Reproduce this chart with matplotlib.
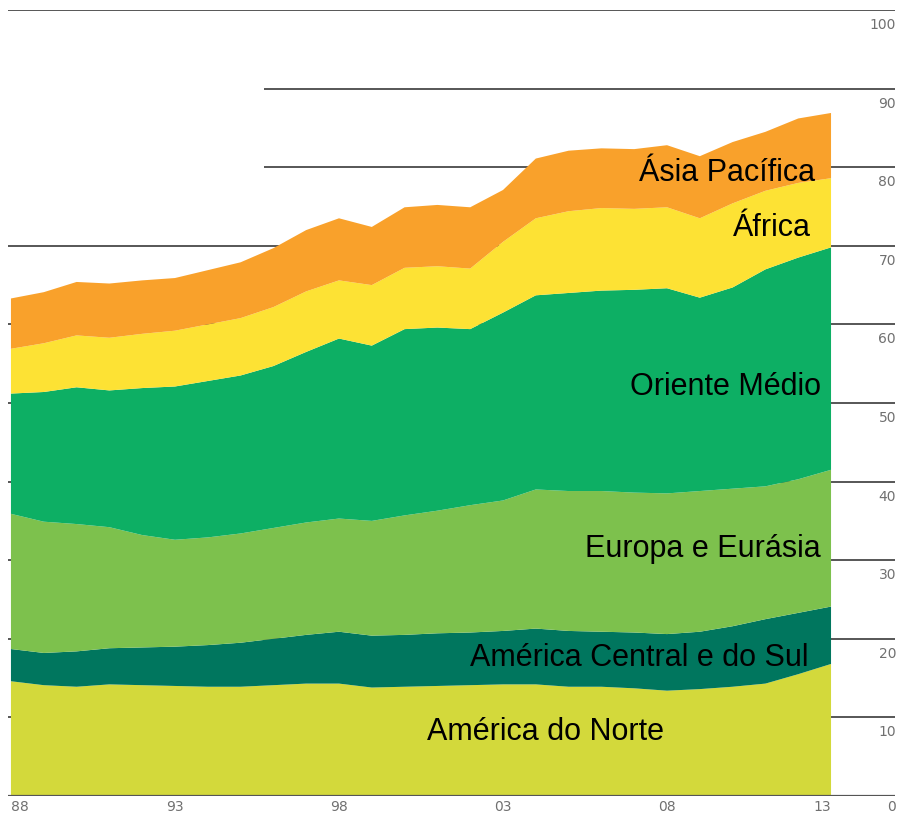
import matplotlib.pyplot as plt
import matplotlib.transforms as mtransforms
import numpy as np

plt.rcParams['font.family'] = ['Liberation Sans', 'DejaVu Sans']

# anos 1988..2013
years = np.arange(1988, 2014)

# participacao por regiao
america_norte = [14.6, 14.1, 13.9, 14.2, 14.1, 14.0, 13.9, 13.9, 14.1, 14.3, 14.3, 13.8, 13.9,
                 14.0, 14.1, 14.2, 14.2, 13.9, 13.9, 13.7, 13.4, 13.6, 13.9, 14.3, 15.5, 16.8]
america_central_sul = [4.1, 4.1, 4.5, 4.6, 4.8, 5.0, 5.3, 5.6, 5.9, 6.2, 6.6, 6.6, 6.6,
                       6.7, 6.7, 6.8, 7.1, 7.1, 7.0, 7.1, 7.2, 7.3, 7.7, 8.2, 7.8, 7.3]
europa_eurasia = [17.2, 16.7, 16.2, 15.4, 14.3, 13.6, 13.7, 13.9, 14.1, 14.3, 14.4, 14.6, 15.2,
                  15.6, 16.2, 16.6, 17.7, 17.8, 17.9, 17.8, 17.9, 17.9, 17.5, 16.9, 17.0, 17.4]
oriente_medio = [15.3, 16.5, 17.4, 17.4, 18.7, 19.5, 19.9, 20.1, 20.6, 21.7, 22.9, 22.3, 23.7,
                 23.3, 22.4, 23.9, 24.7, 25.2, 25.5, 25.8, 26.1, 24.6, 25.6, 27.6, 28.2, 28.3]
africa = [5.7, 6.2, 6.6, 6.7, 6.9, 7.1, 7.2, 7.3, 7.5, 7.7, 7.4, 7.7, 7.8,
          7.8, 7.7, 9.0, 9.8, 10.4, 10.5, 10.3, 10.3, 10.1, 10.7, 10.0, 9.5, 8.8]
asia_pacifico = [6.4, 6.5, 6.8, 6.9, 6.8, 6.7, 6.9, 7.1, 7.5, 7.8, 7.9, 7.4, 7.7,
                 7.8, 7.8, 6.6, 7.6, 7.7, 7.6, 7.6, 7.9, 7.9, 7.8, 7.5, 8.2, 8.3]

cores = ['#d3d93b', '#00765e', '#7dc14d', '#0daf64', '#fde234', '#f9a12b']

xtick_years = [1988, 1993, 1998, 2003, 2008, 2013]
xtick_labels = ['88', '93', '98', '03', '08', '13']
yticks = [0, 10, 20, 30, 40, 50, 60, 70, 80, 90, 100]

fig = plt.figure(figsize=(9.02, 8.16), dpi=100)
ax = fig.add_axes([8 / 902, 20 / 816, 887 / 902, 786 / 816])

x0, x1 = 1987.91, 2014.95
ax.set_xlim(x0, x1)
ax.set_ylim(0, 100)

# linhas de grade (atras das areas)
for v in yticks[1:]:
    start = 1995.7 if v in (80, 90) else x0
    ax.hlines(v, start, x1, color='#3a3a3a', linewidth=1.2, zorder=1)
ax.hlines(0, x0, x1, color='#555555', linewidth=1.6, zorder=4)

ax.stackplot(years, america_norte, america_central_sul, europa_eurasia,
             oriente_medio, africa, asia_pacifico, colors=cores,
             linewidth=0, zorder=2)

for s in ax.spines.values():
    s.set_visible(False)
ax.set_xticks([])
ax.set_yticks([])

tick_font = dict(family='DejaVu Sans', fontsize=10, color='#707070')

# rotulos do eixo x
aligns = ['left', 'center', 'center', 'center', 'center', 'right']
for yr, lab, ha in zip(xtick_years, xtick_labels, aligns):
    ax.annotate(lab, xy=(yr, 0), xycoords='data', xytext=(0, -15),
                textcoords='offset pixels', ha=ha, va='baseline',
                annotation_clip=False, **tick_font)

# rotulos do eixo y (a direita, abaixo de cada linha)
trans = mtransforms.blended_transform_factory(ax.transAxes, ax.transData)
for v in yticks:
    ax.annotate(str(v), xy=(1.0, v), xycoords=trans, xytext=(1, -15 if v == 0 else -19),
                textcoords='offset pixels', ha='right', va='baseline',
                annotation_clip=False, **tick_font)

# nomes das regioes
fs = 22
ax.text(2012.5, 79.2, 'Ásia Pacífica', ha='right', va='center', fontsize=fs, zorder=5)
ax.text(2012.4, 72.3, 'África', ha='right', va='center', fontsize=fs, zorder=5)
ax.text(2012.7, 52.0, 'Oriente Médio', ha='right', va='center', fontsize=fs, zorder=5)
ax.text(2012.7, 31.45, 'Europa e Eurásia', ha='right', va='center', fontsize=fs, zorder=5)
ax.text(2012.3, 17.55, 'América Central e do Sul', ha='right', va='center', fontsize=fs, zorder=5)
ax.text(2004.3, 8.1, 'América do Norte', ha='center', va='center', fontsize=fs, zorder=5)

fig.savefig('out.png', dpi=100)
